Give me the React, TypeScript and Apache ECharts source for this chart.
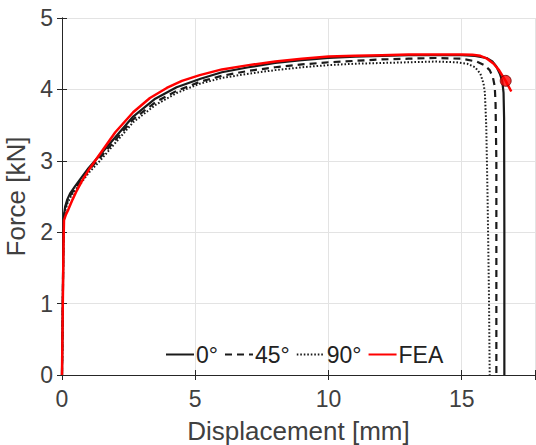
import React, { useEffect, useRef } from "react";
import * as echarts from "echarts";

const x0 = [0, 0.03, 0.055, 0.08, 0.12, 0.2, 0.3, 0.5, 0.7, 1.0, 1.4, 2, 2.67, 3.5, 4.3, 5.2, 6, 7, 8, 9, 10, 11, 12, 13, 14, 15, 15.5, 15.93, 16.15, 16.3, 16.43, 16.52, 16.57, 16.59, 16.6, 16.6];
const y0 = [0, 1.0, 2.0, 2.25, 2.36, 2.46, 2.54, 2.65, 2.75, 2.9, 3.07, 3.33, 3.62, 3.87, 4.03, 4.15, 4.24, 4.31, 4.37, 4.41, 4.44, 4.46, 4.47, 4.48, 4.48, 4.48, 4.47, 4.44, 4.39, 4.32, 4.22, 4.12, 3.95, 3.6, 2.0, 0];

const x45 = [0, 0.03, 0.055, 0.08, 0.12, 0.2, 0.3, 0.5, 0.7, 1.0, 1.4, 2, 2.67, 3.5, 4.3, 5.2, 6, 7, 8, 9, 10, 11, 12, 13, 14, 15, 15.56, 15.85, 16.05, 16.17, 16.24, 16.27, 16.3, 16.3];
const y45 = [0, 1.0, 2.0, 2.22, 2.33, 2.43, 2.51, 2.62, 2.72, 2.87, 3.03, 3.29, 3.58, 3.82, 3.98, 4.11, 4.19, 4.26, 4.31, 4.35, 4.38, 4.4, 4.42, 4.43, 4.44, 4.43, 4.39, 4.34, 4.27, 4.17, 4.04, 3.8, 3.0, 0];

const x90 = [0, 0.03, 0.055, 0.08, 0.12, 0.2, 0.3, 0.5, 0.7, 1.0, 1.4, 2, 2.67, 3.5, 4.3, 5.17, 6, 7, 8, 9, 10, 11, 12, 13, 14, 14.8, 15.2, 15.5, 15.7, 15.82, 15.87, 15.92, 15.97, 16.02, 16.05];
const y90 = [0, 1.0, 2.0, 2.2, 2.3, 2.4, 2.48, 2.59, 2.68, 2.83, 2.99, 3.25, 3.54, 3.78, 3.95, 4.08, 4.16, 4.22, 4.27, 4.31, 4.34, 4.36, 4.37, 4.38, 4.39, 4.38, 4.36, 4.31, 4.22, 4.08, 3.95, 3.5, 2.5, 1.2, 0];

const xFea = [0, 0.03, 0.06, 0.075, 0.15, 0.24, 0.4, 0.55, 0.75, 1.0, 1.43, 2.0, 2.67, 3.3, 3.93, 4.5, 5.17, 6, 7, 8, 9, 10, 11, 12, 13, 14, 15, 15.4, 15.7, 15.95, 16.2, 16.4, 16.55, 16.65, 16.86];
const yFea = [0, 1.0, 1.9, 2.17, 2.25, 2.32, 2.46, 2.58, 2.72, 2.87, 3.1, 3.4, 3.68, 3.88, 4.02, 4.12, 4.2, 4.28, 4.34, 4.39, 4.43, 4.46, 4.47, 4.48, 4.49, 4.49, 4.49, 4.485, 4.47, 4.43, 4.36, 4.27, 4.18, 4.12, 3.97];

const failurePoint = [16.65, 4.12];

const xTicks = [0, 5, 10, 15];
const yTicks = [0, 1, 2, 3, 4, 5];

const zip = (xs: number[], ys: number[]) => xs.map((x, i) => [x, ys[i]]);

const FONT = "Liberation Sans";
const AX = "#262626";
const TXT = "#404040";

export default function App() {
  const ref = useRef<HTMLDivElement>(null);
  useEffect(() => {
    if (!ref.current) return;
    const chart = echarts.init(ref.current, null, { renderer: "svg" });
    const xMax = 17.75;
    const baseX = {
      type: "value" as const,
      min: 0,
      max: xMax,
      interval: 5,
    };
    const noSym = { itemStyle: { opacity: 0 } };
    chart.setOption({
      animation: false,
      textStyle: { fontFamily: FONT },
      grid: { left: 62, top: 18, right: 1, bottom: 70, outerBoundsMode: "none", containLabel: false },
      legend: {
        data: [
          { name: "0°", ...noSym },
          { name: "45°", ...noSym },
          { name: "90°", ...noSym },
          { name: "FEA", ...noSym },
        ],
        left: 160,
        top: 338,
        itemWidth: 28,
        itemHeight: 14,
        itemGap: 6,
        textStyle: { fontFamily: FONT, fontSize: 23, color: "#222", padding: [0, 0, 0, -3] },
      },
      xAxis: [
        {
          ...baseX,
          position: "bottom",
          name: "Displacement [mm]",
          nameLocation: "middle",
          nameGap: 43,
          nameTextStyle: { fontFamily: FONT, fontSize: 26, color: TXT },
          axisLine: { show: true, lineStyle: { color: AX, width: 1 } },
          axisTick: { show: true, inside: true, length: 5, lineStyle: { color: AX } },
          axisLabel: {
            fontFamily: FONT,
            fontSize: 23,
            color: TXT,
            margin: 12,
            customValues: xTicks,
            formatter: (v: number) => String(v),
          },
          splitLine: { show: true, lineStyle: { color: "#e3e3e3", width: 1 } },
        },
        {
          ...baseX,
          position: "top",
          axisLine: { show: true, lineStyle: { color: AX, width: 1 } },
          axisTick: { show: true, inside: true, length: 5, lineStyle: { color: AX } },
          axisLabel: { show: false },
          splitLine: { show: false },
        },
      ],
      yAxis: [
        {
          type: "value",
          min: 0,
          max: 5,
          interval: 1,
          position: "left",
          name: "Force [kN]",
          nameLocation: "middle",
          nameGap: 32,
          nameTextStyle: { fontFamily: FONT, fontSize: 26, color: TXT },
          axisLine: { show: true, lineStyle: { color: AX, width: 1 } },
          axisTick: { show: true, inside: true, length: 5, lineStyle: { color: AX } },
          axisLabel: {
            fontFamily: FONT,
            fontSize: 23,
            color: TXT,
            margin: 9,
            customValues: yTicks,
          },
          splitLine: { show: true, lineStyle: { color: "#e3e3e3", width: 1 } },
        },
        {
          type: "value",
          min: 0,
          max: 5,
          interval: 1,
          position: "right",
          axisLine: { show: true, lineStyle: { color: AX, width: 1 } },
          axisTick: { show: true, inside: true, length: 5, lineStyle: { color: AX } },
          axisLabel: { show: false },
          splitLine: { show: false },
        },
      ],
      series: [
        {
          name: "0°",
          type: "line",
          data: zip(x0, y0),
          symbol: "none",
          lineStyle: { color: "#1a1a1a", width: 2.2, type: "solid" },
          itemStyle: { color: "#1a1a1a" },
          z: 3,
        },
        {
          name: "45°",
          type: "line",
          data: zip(x45, y45),
          symbol: "none",
          lineStyle: { color: "#1a1a1a", width: 2.2, type: [7, 5] },
          itemStyle: { color: "#1a1a1a" },
          z: 2,
        },
        {
          name: "90°",
          type: "line",
          data: zip(x90, y90),
          symbol: "none",
          lineStyle: { color: "#1a1a1a", width: 2, type: [1.6, 1.9] },
          itemStyle: { color: "#1a1a1a" },
          z: 1,
        },
        {
          name: "FEA",
          type: "line",
          data: zip(xFea, yFea),
          symbol: "none",
          lineStyle: { color: "#ff0000", width: 2.5 },
          itemStyle: { color: "#ff0000" },
          z: 4,
        },
        {
          name: "failure",
          type: "scatter",
          data: [failurePoint],
          symbol: "circle",
          symbolSize: 11,
          itemStyle: { color: "#ff0000", borderColor: "#6b0000", borderWidth: 1 },
          z: 5,
        },
      ],
    });
    return () => chart.dispose();
  }, []);
  return (
    <div
      ref={ref}
      style={{ position: "absolute", left: 0, top: 0, width: 536, height: 445, background: "#fff" }}
    />
  );
}
